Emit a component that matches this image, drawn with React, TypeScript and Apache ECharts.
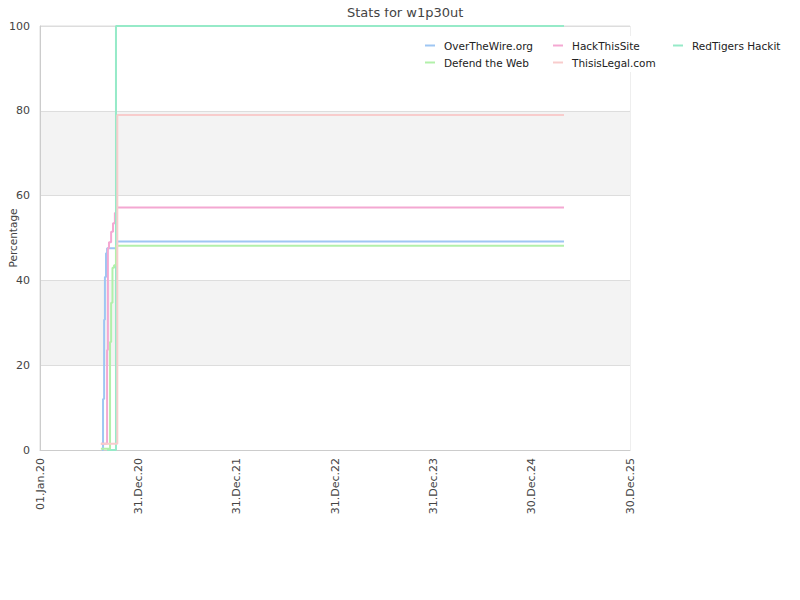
import React, { useEffect, useRef } from "react";
import * as echarts from "echarts";

const seriesNames = ["OverTheWire.org", "HackThisSite", "RedTigers Hackit", "Defend the Web", "ThisisLegal.com"];
const seriesColors = ["#9ec6f3", "#f4a8d2", "#96eac8", "#b2f0aa", "#f8cccc"];

const overTheWire: [string, number][] = [
  ["2020-08-18", 0], ["2020-08-22", 12], ["2020-08-26", 30.7], ["2020-08-29", 40.8],
  ["2020-09-02", 46.4], ["2020-09-06", 47.6], ["2020-10-13", 49.2], ["2025-04-29", 49.2],
];
const hackThisSite: [string, number][] = [
  ["2020-08-14", 1.5], ["2020-09-06", 23.6], ["2020-09-09", 47.6], ["2020-09-13", 49.0],
  ["2020-09-21", 51.5], ["2020-09-28", 53.5], ["2020-10-05", 55.9], ["2020-10-11", 57.2],
  ["2025-04-29", 57.2],
];
const redTigers: [string, number][] = [
  ["2020-09-06", 0], ["2020-10-09", 100], ["2025-04-29", 100],
];
const defendTheWeb: [string, number][] = [
  ["2020-08-14", 0.3], ["2020-09-17", 25.5], ["2020-09-21", 34.7], ["2020-09-26", 43],
  ["2020-10-02", 43.6], ["2020-10-09", 48.2], ["2025-04-29", 48.2],
];
const thisisLegal: [string, number][] = [
  ["2020-08-14", 1.5], ["2020-10-14", 79.0], ["2025-04-29", 79.0],
];
const allSeries = [overTheWire, hackThisSite, redTigers, defendTheWeb, thisisLegal];

const START = Date.UTC(2020, 0, 1);
const DAY = 86400000;
const X_MAX_DAYS = 2190;
const X_INTERVAL = 365;
const MONTHS = ["Jan", "Feb", "Mar", "Apr", "May", "Jun", "Jul", "Aug", "Sep", "Oct", "Nov", "Dec"];

const toDays = (s: string) => {
  const [y, m, d] = s.split("-").map(Number);
  return Math.round((Date.UTC(y, m - 1, d) - START) / DAY);
};
const fmt = (v: number) => {
  const dt = new Date(START + v * DAY);
  const dd = String(dt.getUTCDate()).padStart(2, "0");
  const yy = String(dt.getUTCFullYear() % 100).padStart(2, "0");
  return `${dd}.${MONTHS[dt.getUTCMonth()]}.${yy}`;
};

const FONT = "DejaVu Sans";

export default function App() {
  const ref = useRef<HTMLDivElement>(null);
  useEffect(() => {
    if (!ref.current) return;
    const chart = echarts.init(ref.current, null, { renderer: "svg" });
    const legendBase = {
      orient: "vertical" as const,
      top: 36,
      itemWidth: 10,
      itemHeight: 2,
      itemGap: 6,
      icon: "rect",
      backgroundColor: "#fff",
      padding: [4, 6],
      textStyle: { fontFamily: FONT, fontSize: 10.5, color: "#222", padding: [0, 0, 0, 4] },
    };
    chart.setOption({
      animation: false,
      textStyle: { fontFamily: FONT },
      title: {
        text: "Stats for w1p30ut",
        left: 342,
        top: 1,
        textStyle: { fontFamily: FONT, fontSize: 13, fontWeight: "normal", color: "#444" },
      },
      legend: [
        { ...legendBase, left: 419, data: [seriesNames[0], seriesNames[3]] },
        { ...legendBase, left: 547, data: [seriesNames[1], seriesNames[4]] },
        { ...legendBase, left: 667, data: [seriesNames[2]] },
      ],
      grid: {
        left: 40, right: 170, top: 26, bottom: 150,
        outerBoundsMode: "none",
        containLabel: false,
        show: true, borderColor: "#ddd", borderWidth: 1,
      },
      xAxis: {
        type: "value",
        min: 0,
        max: X_MAX_DAYS,
        interval: X_INTERVAL,
        axisLine: { lineStyle: { color: "#ccc" } },
        axisTick: { show: false },
        splitLine: { show: false },
        axisLabel: {
          rotate: 90,
          formatter: (v: number) => fmt(v),
          fontFamily: FONT,
          fontSize: 11,
          color: "#444",
          margin: 8,
        },
      },
      yAxis: {
        type: "value",
        min: 0,
        max: 100,
        interval: 20,
        name: "Percentage",
        nameLocation: "middle",
        nameGap: 22,
        nameMoveOverlap: false,
        nameTextStyle: { fontFamily: FONT, fontSize: 10.5, color: "#444" },
        axisLine: { show: true, lineStyle: { color: "#ccc" } },
        axisTick: { show: false },
        axisLabel: { fontFamily: FONT, fontSize: 11, color: "#444", margin: 10 },
        splitLine: { lineStyle: { color: "#ddd" } },
        splitArea: { show: true, areaStyle: { color: ["#ffffff", "#f3f3f3"] } },
      },
      series: allSeries.map((data, i) => ({
        name: seriesNames[i],
        type: "line",
        step: "end",
        showSymbol: false,
        symbol: "none",
        color: seriesColors[i],
        lineStyle: { width: 2, color: seriesColors[i] },
        data: data.map(([d, v]) => [toDays(d), v]),
      })),
    });
    return () => chart.dispose();
  }, []);
  return (
    <div
      ref={ref}
      style={{ width: 800, height: 600, position: "relative", left: -8, top: -8 }}
    />
  );
}
